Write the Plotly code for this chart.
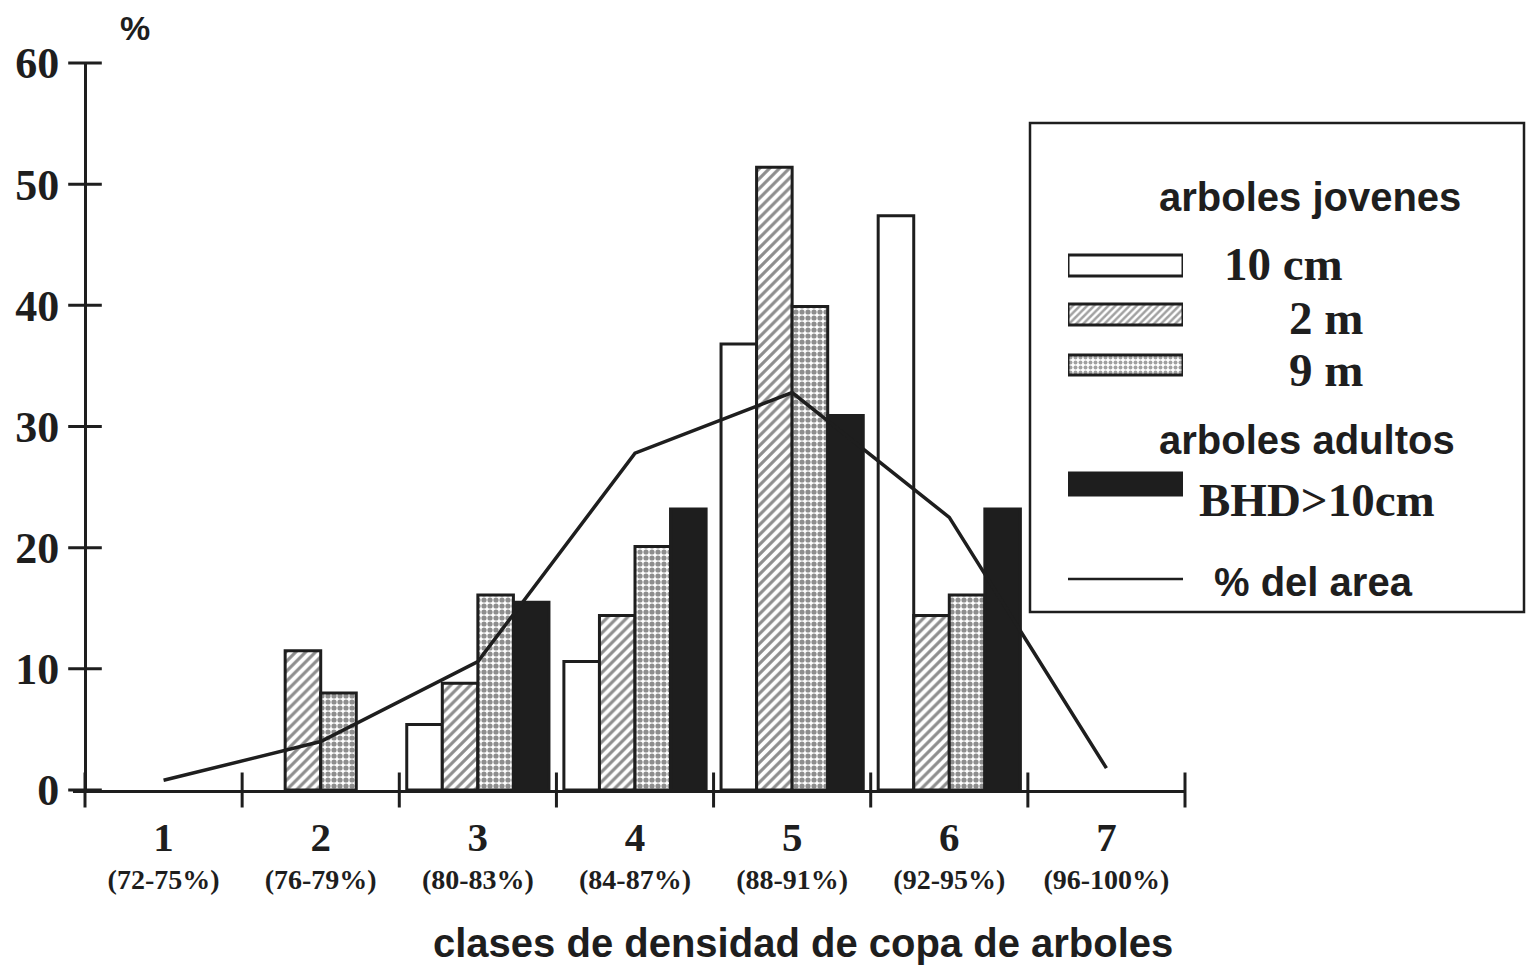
import plotly.graph_objects as go

# ---------------- data ----------------
categories = [1, 2, 3, 4, 5, 6, 7]
cat_labels = ["1", "2", "3", "4", "5", "6", "7"]
range_labels = ["(72-75%)", "(76-79%)", "(80-83%)", "(84-87%)",
                "(88-91%)", "(92-95%)", "(96-100%)"]
jov_10cm = [None, None, 5.4, 10.6, 36.8, 47.4, None]
jov_2m = [None, 11.5, 8.8, 14.4, 51.4, 14.4, None]
jov_9m = [None, 8.0, 16.1, 20.1, 39.9, 16.1, None]
adult_bhd = [None, None, 15.5, 23.2, 30.9, 23.2, None]
area_pct = [0.8, 4.0, 10.6, 27.8, 32.8, 22.5, 1.8]
y_ticks = [0, 10, 20, 30, 40, 50, 60]
boundaries = [c - 0.5 for c in categories] + [categories[-1] + 0.5]

# ---------------- layout helpers ----------------
W, H = 1535, 970
OFF = 8  # page body margin of the html page
def px(x):
    return (x - OFF) / W
def py(y):
    return 1 - (y - OFF) / H

SERIF = "Liberation Serif"
SANS = "Liberation Sans"
BLACK = "#1e1e1e"

x_left_px, x_axis0_px, x_right_px = 73, 85, 1185
cat_w = (x_right_px - x_axis0_px) / len(categories)
x_lo = 0.5 - (x_axis0_px - x_left_px) / cat_w
x_hi = 7.5
xdom = [px(x_left_px), px(x_right_px)]
ydom = [py(790), py(63)]

hatch = dict(shape="/", fgcolor=BLACK, bgcolor="white", size=7, solidity=0.45)
dots = dict(shape=".", fgcolor=BLACK, bgcolor="white", size=6, solidity=0.6)
outline = dict(color=BLACK, width=3)

fig = go.Figure()

# crossing tick marks (drawn as line markers centred on the axes)
fig.add_trace(go.Scatter(x=boundaries, y=[0] * len(boundaries), mode="markers",
                         marker=dict(symbol="line-ns", size=25,
                                     line=dict(color=BLACK, width=3)),
                         cliponaxis=False, hoverinfo="skip"))
fig.add_trace(go.Scatter(x=[boundaries[0]] * len(y_ticks), y=y_ticks, mode="markers",
                         marker=dict(symbol="line-ew", size=24,
                                     line=dict(color=BLACK, width=3)),
                         cliponaxis=False, hoverinfo="skip"))

fig.add_trace(go.Bar(x=categories, y=jov_10cm, name="10 cm",
                     marker=dict(color="white", line=outline)))
fig.add_trace(go.Bar(x=categories, y=jov_2m, name="2 m",
                     marker=dict(color="white", line=outline, pattern=hatch)))
fig.add_trace(go.Bar(x=categories, y=jov_9m, name="9 m",
                     marker=dict(color="white", line=outline, pattern=dots)))
fig.add_trace(go.Bar(x=categories, y=adult_bhd, name="BHD>10cm",
                     marker=dict(color=BLACK, line=outline)))
fig.add_trace(go.Scatter(x=categories, y=area_pct, mode="lines", name="% del area",
                         line=dict(color=BLACK, width=3.5)))

# empty helper trace so the overlay axis with the range labels is drawn
fig.add_trace(go.Scatter(x=[None], y=[None], xaxis="x4", yaxis="y",
                         mode="markers", hoverinfo="skip", showlegend=False))

# legend swatches drawn on a hidden helper subplot (pixel-like units)
sw_y = [265.5, 314.5, 365, 484]
sw_h = [21, 21, 20, 22]
fig.add_trace(go.Bar(x=[1, 1, 1, 1], y=sw_y, width=sw_h, orientation="h",
                     xaxis="x5", yaxis="y5", base=0,
                     marker=dict(color=["white", "white", "white", BLACK],
                                 line=dict(color=BLACK, width=3),
                                 pattern=dict(shape=["", "/", ".", ""],
                                              fgcolor=BLACK, bgcolor="white",
                                              size=5, solidity=0.5)),
                     hoverinfo="skip"))
fig.add_trace(go.Scatter(x=[0, 1.02], y=[579, 579], mode="lines",
                         xaxis="x5", yaxis="y5",
                         line=dict(color=BLACK, width=2.5), hoverinfo="skip"))

base_x = dict(domain=xdom, range=[x_lo, x_hi], showgrid=False, zeroline=False,
              fixedrange=True, automargin=False)
fig.update_layout(
    width=W, height=H,
    margin=dict(l=0, r=0, t=0, b=0),
    paper_bgcolor="white", plot_bgcolor="white",
    showlegend=False,
    barmode="group", bargap=0.095, bargroupgap=0,
    xaxis=dict(**base_x, anchor="y", tickmode="array", tickvals=categories,
               ticktext=cat_labels, ticks="", showline=True, linewidth=3,
               linecolor=BLACK, ticklabelstandoff=9,
               tickfont=dict(family=SERIF, size=41, color=BLACK, weight="bold")),
    xaxis4=dict(**base_x, overlaying="x", anchor="y", tickmode="array",
                tickvals=categories, ticktext=range_labels, ticks="",
                showline=False, ticklabelstandoff=70,
                tickfont=dict(family=SERIF, size=28, color=BLACK, weight="bold")),
    yaxis=dict(domain=ydom, range=[0, 60], anchor="free", position=px(x_axis0_px),
               tickmode="array", tickvals=y_ticks, ticks="",
               showline=True, linewidth=3,
               linecolor=BLACK, showgrid=False, zeroline=False,
               tickfont=dict(family=SERIF, size=44, color=BLACK, weight="bold"),
               ticklabelstandoff=16, automargin=False, fixedrange=True),
    xaxis5=dict(domain=[px(1068), px(1183)], range=[0, 1], visible=False,
                anchor="y5", fixedrange=True),
    yaxis5=dict(domain=[py(600), py(240)], range=[600, 240], visible=False,
                anchor="x5", fixedrange=True),
)

# legend frame
fig.add_shape(type="rect", xref="paper", yref="paper",
              x0=px(1030), x1=px(1524), y0=py(612), y1=py(123),
              line=dict(color=BLACK, width=2.5), fillcolor="rgba(0,0,0,0)")

def ann(text, x, y, font, xanchor="left"):
    fig.add_annotation(text=text, x=px(x), y=py(y), xref="paper", yref="paper",
                       xanchor=xanchor, yanchor="middle", showarrow=False,
                       font=font)

sans_f = dict(family=SANS, size=40, color=BLACK, weight="bold")
serif_f = dict(family=SERIF, size=47, color=BLACK, weight="bold")

ann("arboles jovenes", 1157, 197, sans_f)
ann("10 cm", 1222, 264, serif_f)
ann("2 m", 1287, 318, serif_f)
ann("9 m", 1287, 370, serif_f)
ann("arboles adultos", 1157, 440, sans_f)
ann("BHD>10cm", 1197, 500, serif_f)
ann("% del area", 1212, 582, sans_f)

ann("%", 135, 28, dict(family=SANS, size=34, color=BLACK, weight="bold"), "center")
ann("clases de densidad de copa de arboles", 803, 943,
    dict(family=SANS, size=40, color=BLACK, weight="bold"), "center")

fig.write_html("out.html")
